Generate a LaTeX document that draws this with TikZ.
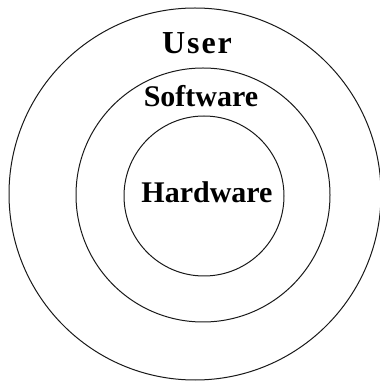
\documentclass[tikz,border=0pt]{standalone}
\usepackage{fontspec}
\setmainfont{Liberation Serif}
\usepackage{tikz}
\definecolor{ring}{gray}{0.1}
\newfontfamily\userfont[LetterSpace=6]{Liberation Serif}

\tikzset{layer/.style={inner sep=0pt, font=\bfseries\fontsize{30}{30}\selectfont}}

\begin{document}
\begin{tikzpicture}[x=1pt, y=1pt, line width=1pt]
  \useasboundingbox (0, 0) rectangle (380, 383);
  \draw[color=ring] (195, 189) circle (186pt);
  \draw[color=ring] (203, 188) circle (127pt);
  \draw[color=ring] (204, 187) circle (80pt);
  \node[layer, font=\userfont\bfseries\fontsize{32}{32}\selectfont] (user) at (197, 340) {User};
  \node[layer] (software) at (201, 286.5) {Software};
  \node[layer] (hardware) at (207, 190.5) {Hardware};
\end{tikzpicture}
\end{document}
